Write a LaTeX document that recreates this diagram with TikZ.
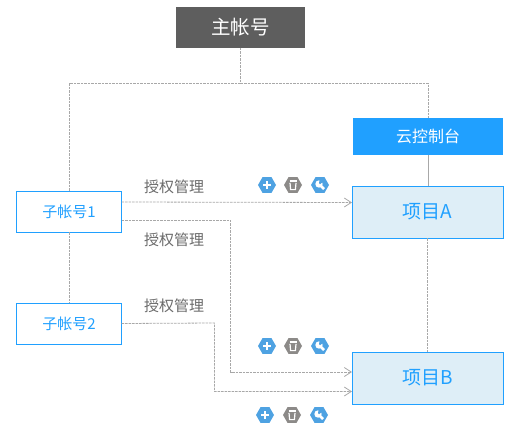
\documentclass[tikz,border=0pt]{standalone}
\usepackage{fontspec}
\setmainfont{Noto Sans CJK SC}
\usetikzlibrary{arrows.meta,shapes.geometric}
\definecolor{acctblue}{HTML}{20A0FF}
\definecolor{linegray}{HTML}{A8A8A8}
\definecolor{hexblue}{HTML}{4EA2E2}
\definecolor{hexgray}{HTML}{8C8A88}
\definecolor{projfill}{HTML}{DEEEF7}

\begin{document}
\begin{tikzpicture}[
  x=1pt, y=-1pt,
  every node/.style={inner sep=0pt, outer sep=0pt},
  solidbox/.style={minimum height=#1, text=white, font=\fontsize{16}{16}\selectfont},
  mainbox/.style={solidbox=41pt, fill=black!63, minimum width=129pt, font=\fontsize{19.5}{20}\selectfont},
  consolebox/.style={solidbox=37pt, fill=acctblue, minimum width=150pt},
  projbox/.style={draw=acctblue, fill=projfill, minimum width=151pt, minimum height=52pt, text=acctblue, font=\fontsize{19}{20}\selectfont},
  subbox/.style={draw=acctblue, fill=white, minimum width=105pt, minimum height=41pt, text=acctblue, font=\fontsize{15}{15}\selectfont},
  authlabel/.style={text=black!58, font=\fontsize{15}{15}\selectfont},
  dashline/.style={draw=linegray, line width=0.8pt, dash pattern=on 2.5pt off 1pt},
  solidline/.style={draw=linegray, line width=0.8pt},
  authline/.style={dashline, -{Straight Barb[length=7pt,width=9pt]}},
  hexicon/.style={regular polygon, regular polygon sides=6, minimum size=18pt, fill=#1},
  glyph/.style={draw=white, line width=1.8pt},
  pics/addicon/.style={code={
    \node[hexicon=hexblue] {};
    \draw[glyph] (-4,0) -- (4,0) (0,-4) -- (0,4);
  }},
  pics/binicon/.style={code={
    \node[hexicon=hexgray] {};
    \draw[white, line width=1.3pt] (-3.5,-4) -- (3.5,-4);
    \draw[white, line width=1.2pt] (-3,-2.2) -- (-2.4,4.6) -- (2.4,4.6) -- (3,-2.2);
  }},
  pics/toolicon/.style={code={
    \node[hexicon=hexblue] {};
    \fill[white] (-1,-1) circle (3.7);
    \draw[white, line width=2.6pt] (-1,-1) -- (4,4);
    \fill[hexblue] (-1,-1.8) -- (-0.2,-6) -- (3.4,-3.4) -- (0,-0.8) -- cycle;
  }}
]
\useasboundingbox (0,0) rectangle (527,444);

\node[mainbox] (mainacct) at (240.5,27.5) {主帐号};
\node[consolebox] (console) at (428,136.5) {云控制台};
\node[projbox] (projA) at (427.5,212) {项目A};
\node[projbox] (projB) at (427.5,378) {项目B};
\node[subbox] (sub1) at (69,211.5) {子帐号1};
\node[subbox] (sub2) at (69,323.5) {子帐号2};

\node[authlabel] (auth1) at (174,187) {授权管理};
\node[authlabel] (auth2) at (174,240) {授权管理};
\node[authlabel] (auth3) at (174,306) {授权管理};

% top part of the tree
\coordinate (busmid) at (240.5,83);
\draw[dashline] (mainacct.south) -- (busmid);
\draw[dashline] (busmid) -| (sub1.north);
\draw[dashline] (busmid) -| (console.north);
\draw[solidline] (console.south) -- (projA.north -| console.south);
\draw[dashline] (projA.south) -- (projB.north);
\draw[dashline] (sub1.south) -- (sub2.north);

% grant lines
\coordinate (bendA) at (230.5,220);
\coordinate (bendB) at (214.5,323);
\draw[authline] ([yshift=9.5pt]sub1.east) -- ([yshift=9.5pt]projA.west);
\draw[authline] ([yshift=-8.5pt]sub1.east) -- (bendA) |- ([yshift=6pt]projB.west);
\draw[authline] (sub2.east) -- (bendB) |- ([yshift=-13.5pt]projB.west);

\foreach \px/\py/\tag in {267/185/a,267/346/b,265/415/c}
  \pic (add\tag) at (\px,\py) {addicon};
\foreach \px/\py/\tag in {293/185/a,293/346/b,292/415/c}
  \pic (bin\tag) at (\px,\py) {binicon};
\foreach \px/\py/\tag in {320/185/a,320/346/b,319/415/c}
  \pic (tool\tag) at (\px,\py) {toolicon};
\end{tikzpicture}
\end{document}
